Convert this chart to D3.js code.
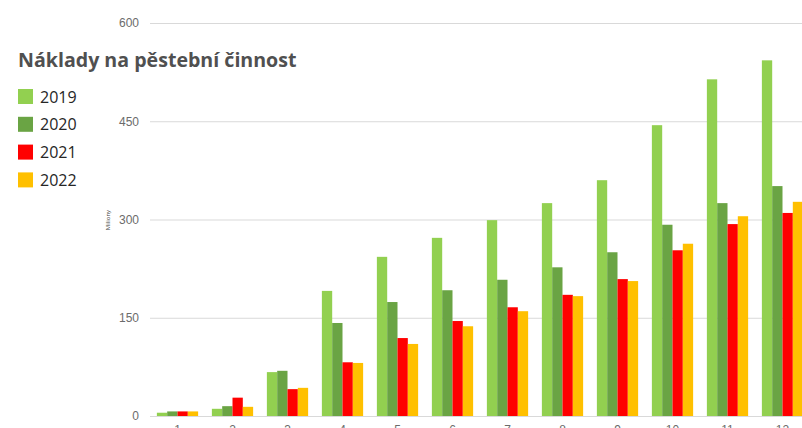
<!DOCTYPE html>
<html>
<head>
<meta charset="utf-8">
<script src="https://cdn.jsdelivr.net/npm/d3@7"></script>
<style>
  body { margin: 0; background: #fff; }
  svg { display: block; font-family: "Open Sans", sans-serif; }
</style>
</head>
<body>
<script>
// Chart data
var months = ["1", "2", "3", "4", "5", "6", "7", "8", "9", "10", "11", "12"];
var years = ["2019", "2020", "2021", "2022"];
var colors = ["#92d050", "#6aa444", "#ff0000", "#ffc000"];
var v2019 = [5, 11, 67, 191, 243, 272, 299, 325, 360, 444, 514, 543];
var v2020 = [7, 15, 69, 142, 174, 192, 208, 227, 250, 292, 325, 351];
var v2021 = [7, 28, 41, 82, 119, 145, 166, 185, 209, 253, 293, 310];
var v2022 = [7, 14, 43, 81, 110, 137, 160, 183, 206, 263, 305, 327];
var yTicks = [0, 150, 300, 450, 600];

var series = [v2019, v2020, v2021, v2022];

var svgWidth = 802;
var svgHeight = 428;

var svg = d3.select("body")
  .append("svg")
  .attr("width", svgWidth)
  .attr("height", svgHeight);

// plot area (right side is cut off by the window, like the reference)
var plotLeft = 150;
var step = 55;
var plotRight = plotLeft + step * months.length;
var plotTop = 23;
var plotBottom = 416;

var xScale = d3.scaleBand()
  .domain(months)
  .range([plotLeft, plotRight])
  .paddingInner(0.25)
  .paddingOuter(0.125);

var xInner = d3.scaleBand()
  .domain(years)
  .range([0, xScale.bandwidth()]);

var yScale = d3.scaleLinear()
  .domain([0, 600])
  .range([plotBottom, plotTop]);

// gridlines + y labels
var yAxis = d3.axisLeft(yScale)
  .tickValues(yTicks)
  .tickSize(-(plotRight - plotLeft))
  .tickPadding(11);

var yG = svg.append("g")
  .attr("transform", `translate(${plotLeft}, 0)`)
  .call(yAxis);
yG.select(".domain").remove();
yG.selectAll(".tick line").attr("stroke", "#d9d9d9").attr("stroke-width", 1);
yG.selectAll(".tick text")
  .attr("fill", "#6b6b6b")
  .style("font-size", "12px");

// y axis title
svg.append("text")
  .attr("transform", "translate(110, 220) rotate(-90)")
  .attr("text-anchor", "middle")
  .attr("fill", "#404040")
  .style("font-size", "6px")
  .text("Miliony");

// bars
var groups = svg.selectAll(".month")
  .data(months)
  .enter()
  .append("g")
  .attr("class", "month")
  .attr("transform", d => `translate(${xScale(d)}, 0)`);

groups.selectAll("rect")
  .data((m, i) => years.map((y, j) => ({ year: y, value: series[j][i], color: colors[j] })))
  .enter()
  .append("rect")
  .attr("x", d => xInner(d.year))
  .attr("y", d => yScale(d.value))
  .attr("width", xInner.bandwidth())
  .attr("height", d => plotBottom - yScale(d.value))
  .attr("fill", d => d.color);

// x labels (only their tops show inside the window, as in the reference)
var xAxis = d3.axisBottom(xScale).tickSize(0).tickPadding(9);
var xG = svg.append("g")
  .attr("transform", `translate(0, ${plotBottom})`)
  .call(xAxis);
xG.select(".domain").attr("stroke", "#d9d9d9");
xG.selectAll(".tick text")
  .attr("fill", "#6b6b6b")
  .style("font-size", "12px");

// title
svg.append("text")
  .attr("x", 18)
  .attr("y", 67)
  .attr("fill", "#505050")
  .style("font-size", "19.6px")
  .style("font-weight", "bold")
  .text("Náklady na pěstební činnost");

// legend
var legend = svg.selectAll(".legend")
  .data(years)
  .enter()
  .append("g")
  .attr("class", "legend")
  .attr("transform", (d, i) => `translate(18, ${89 + i * 27.8})`);

legend.append("rect")
  .attr("width", 15)
  .attr("height", 15)
  .attr("fill", (d, i) => colors[i]);

legend.append("text")
  .attr("x", 22)
  .attr("y", 13.5)
  .attr("fill", "#262626")
  .style("font-size", "16px")
  .text(d => d);
</script>
</body>
</html>
